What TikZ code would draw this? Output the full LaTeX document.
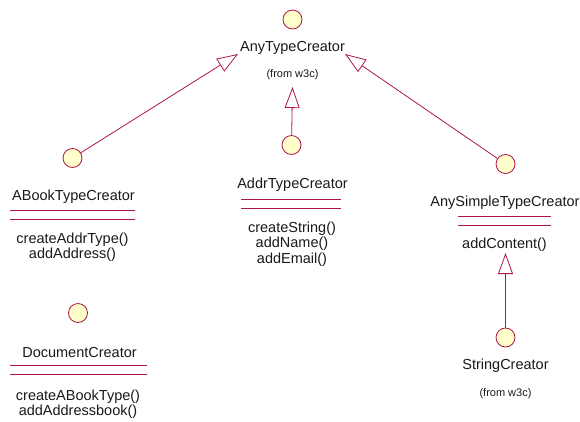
\documentclass[tikz,border=0pt]{standalone}
\usepackage{fontspec}
\setmainfont{Liberation Sans}
\usetikzlibrary{positioning,arrows.meta}

\definecolor{umlred}{RGB}{172,22,72}
\definecolor{umlfill}{RGB}{255,255,204}

\begin{document}
\begin{tikzpicture}[
  x=1pt, y=-1pt,
  font=\fontsize{14.5}{15.5}\selectfont,
  every node/.style={align=center, inner sep=0pt},
  cls/.style   ={circle, draw=umlred, fill=umlfill, minimum size=19pt, line width=0.8pt},
  cname/.style ={text=black!90},
  ops/.style   ={text=black!90},
  pkgnote/.style={font=\fontsize{11}{12}\selectfont, text=black!90},
  sep/.style   ={draw=umlred, line width=0.8pt},
  gen/.style   ={-{Triangle[open, length=21pt, width=15pt, line width=0.8pt]},
                 draw=umlred, line width=0.8pt},
]
\useasboundingbox (0,0) rectangle (580,421);

% Top base class
\node[cls]   (anytype)  at (292.5,19.5) {};
\node[cname] (anytypeN) at (292.5,48)   {AnyTypeCreator};
\node[pkgnote, below=15pt of anytypeN]  (anytypeP) {(from w3c)};

% ABookTypeCreator
\node[cls]   (abook)  at (72.5,158) {};
\node[cname] (abookN) at (73.5,197) {ABookTypeCreator};
\draw[sep] (10,210) -- (135,210);
\draw[sep] (10,219) -- (135,219);
\node[ops]   (abookO) at (72.5,247) {createAddrType()\\addAddress()};

% AddrTypeCreator
\node[cls]   (addr)  at (291.5,145) {};
\node[cname] (addrN) at (292.5,185) {AddrTypeCreator};
\draw[sep] (241,199) -- (341,199);
\draw[sep] (241,208) -- (341,208);
\node[ops]   (addrO) at (292,244) {createString()\\addName()\\addEmail()};

% AnySimpleTypeCreator
\node[cls]   (simple)  at (505.5,164) {};
\node[cname] (simpleN) at (505,203) {AnySimpleTypeCreator};
\draw[sep] (458,216) -- (551,216);
\draw[sep] (458,225) -- (551,225);
\node[ops]   (simpleO) at (504.5,245) {addContent()};

% DocumentCreator
\node[cls]   (doc)  at (78,313) {};
\node[cname] (docN) at (79.5,352) {DocumentCreator};
\draw[sep] (10,365) -- (147,365);
\draw[sep] (10,374) -- (147,374);
\node[ops]   (docO) at (78,404) {createABookType()\\addAddressbook()};

% StringCreator
\node[cls]   (strc)  at (505.5,337.5) {};
\node[cname] (strcN) at (505.5,366)   {StringCreator};
\node[pkgnote, below=15pt of strcN]   (strcP) {(from w3c)};

% generalization arrows
\coordinate (tipL) at (238,54);
\coordinate (tipM) at (292.5,87);
\coordinate (tipR) at (345,54);
\coordinate (tipS) at (505.5,253);
\draw[gen] (abook)  -- (tipL);
\draw[gen] (addr)   -- (tipM);
\draw[gen] (simple) -- (tipR);
\draw[gen] (strc)   -- (tipS);

\end{tikzpicture}
\end{document}
